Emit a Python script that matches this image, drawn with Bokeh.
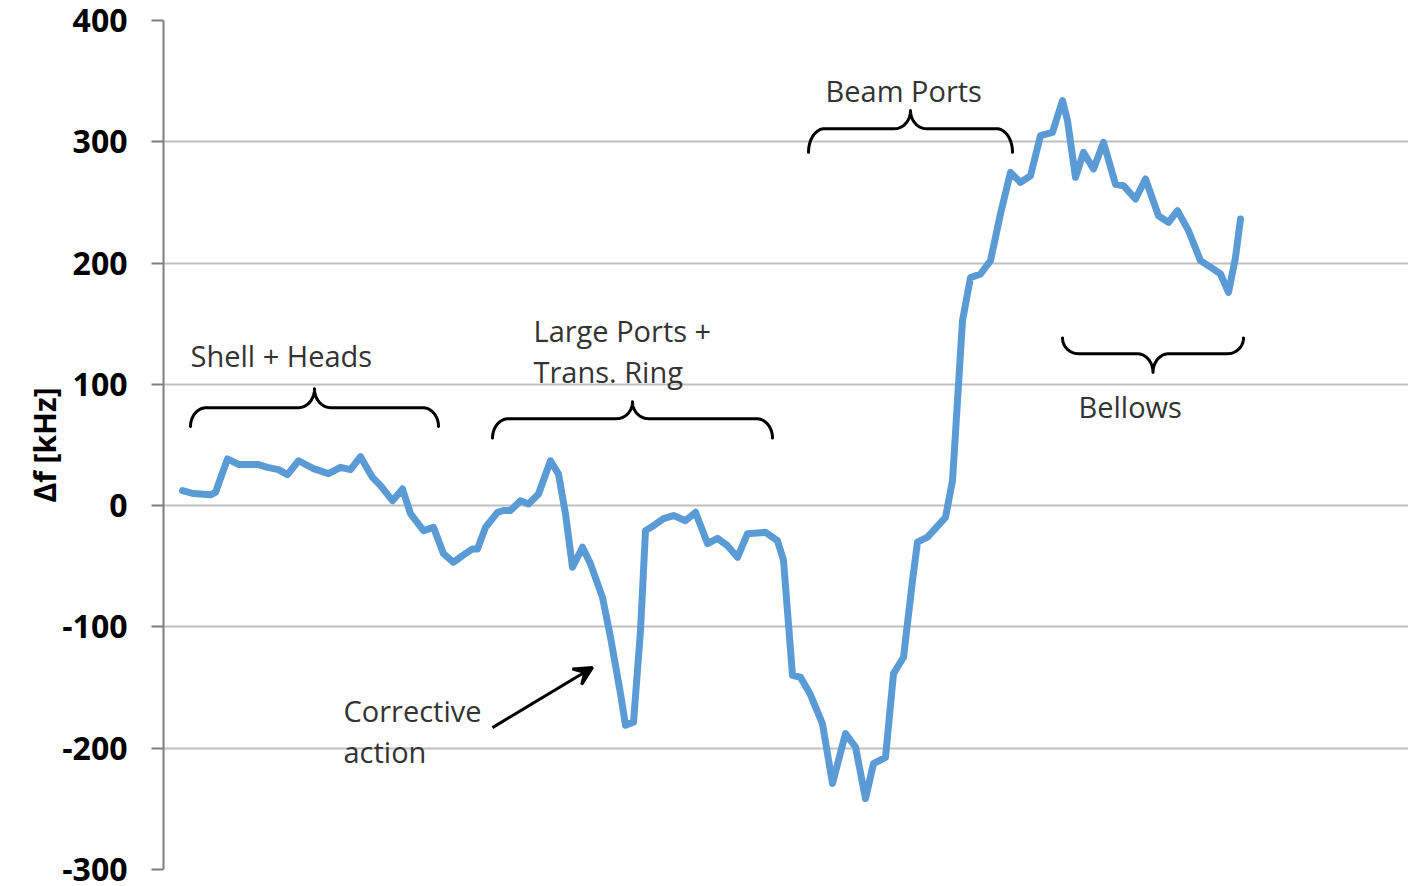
import numpy as np
from bokeh.plotting import figure
from bokeh.models import FixedTicker, Arrow, VeeHead, Range1d
from bokeh.core.properties import value
from bokeh.embed import file_html
from bokeh.resources import INLINE

# ---- data: measurement step vs frequency shift (kHz) ----
step = [1.9, 3.0, 4.7, 5.2, 6.4, 7.5, 9.4, 10.4, 11.5, 12.4, 13.5, 15.0, 16.5, 17.7,
        18.7, 19.7, 20.9, 21.7, 22.9, 23.9, 24.7, 26.0, 27.0, 28.0, 29.0, 29.9, 30.9,
        31.4, 32.2, 33.4, 34.0, 34.7, 35.7, 36.5, 37.5, 38.7, 39.5, 40.2, 40.9, 41.9,
        42.7, 43.9, 44.7, 45.7, 46.2, 47.0, 47.7, 48.2, 49.0, 50.0, 51.0, 52.2, 53.2,
        54.4, 55.4, 56.4, 57.4, 58.4, 60.2, 61.4, 62.0, 62.9, 63.7, 64.7, 65.9, 66.9,
        68.2, 69.2, 70.2, 71.0, 72.2, 73.0, 74.0, 74.9, 75.4, 76.4, 78.2, 78.9, 79.9,
        80.7, 81.7, 82.7, 83.7, 84.7, 85.7, 86.7, 87.7, 88.9, 89.9, 90.4, 91.2, 92.0,
        93.0, 94.0, 95.2, 96.0, 97.2, 98.2, 99.5, 100.5, 101.4, 102.5, 103.7, 105.0,
        105.7, 106.5, 107.2, 107.7]
delta_f = [12.4, 10, 9, 11, 38.5, 34, 34, 31.6, 29.7, 25.6, 37, 30.5, 26.4, 31.6,
           29.7, 40.4, 23.3, 16.5, 4.1, 13.7, -6.6, -20.6, -17.9, -39.6, -46.7, -41.2, -35.7,
           -35.7, -17.9, -5.5, -4, -4, 4, 1.4, 9.6, 37, 26, -6.8, -50.8, -34.3,
           -48, -75.6, -108.5, -155, -181, -178.6, -103, -20.6, -16.5, -10.7, -8.2, -12.4, -5.5,
           -31.3, -27, -33, -42.6, -23.1, -22, -28.9, -45, -140, -141.5, -156, -180, -229,
           -188, -199, -241.5, -212.7, -207.5, -138.5, -125, -61.8, -30, -26, -9.6, 20.6, 152.5,
           188, 191, 202, 240.7, 274.8, 266.5, 272, 305, 307.8, 334, 317.4, 270.7, 291.3,
           277.6, 299.5, 265, 263.8, 252.8, 269.3, 239, 233.6, 243.2, 226.7, 202, 195,
           191, 175.8, 204.7, 236.3]

y_ticks = [-300, -200, -100, 0, 100, 200, 300, 400]
y_tick_labels = ["-300", "-200", "-100", "0", "100", "200", "300", "400"]

# ---- annotations ----
brace_labels = ["Shell + Heads", "Large Ports + Trans. Ring", "Beam Ports", "Bellows"]
brace_x0 = [2.7, 32.9, 64.5, 89.9]
brace_x1 = [27.5, 60.9, 84.9, 108.0]
brace_y = [80.8, 71.7, 310.8, 125.3]
brace_end = [-15.5, -16.0, -19.5, 13.0]   # where the curled ends point (kHz offset)
brace_tip = [15.5, 14.0, 15.0, -15.5]     # where the middle tip points (kHz offset)

text_lines = ["Shell + Heads", "Large Ports +", "Trans. Ring", "Beam Ports", "Bellows",
              "Corrective", "action"]
text_x = [2.7, 37.0, 37.0, 66.2, 91.5, 18.0, 18.0]
text_y = [123.7, 144.3, 110.5, 342.0, 81.6, -169.0, -202.8]

arrow_start = (32.9, -183.0)
arrow_end = (42.9, -133.5)

LINE_COLOR = "#5b9bd5"
TEXT_COLOR = "#333333"

p = figure(width=1408, height=886, output_backend="svg", toolbar_location=None,
           x_range=Range1d(0, 124.5), y_range=Range1d(-300, 400),
           min_border_left=163, min_border_right=0, min_border_top=20,
           min_border_bottom=17, background_fill_color="white",
           border_fill_color="white")
p.outline_line_color = None
p.xaxis.visible = False
p.xgrid.visible = False

p.yaxis.ticker = FixedTicker(ticks=y_ticks)
p.yaxis.major_label_overrides = dict(zip(y_ticks, y_tick_labels))
p.yaxis.minor_tick_line_color = None
p.yaxis.major_tick_in = 0
p.yaxis.major_tick_out = 12
p.yaxis.major_tick_line_color = "#7f7f7f"
p.yaxis.major_tick_line_width = 2
p.yaxis.axis_line_color = "#7f7f7f"
p.yaxis.axis_line_width = 2
p.yaxis.major_label_standoff = 24
p.yaxis.major_label_text_font = "Open Sans"
p.yaxis.major_label_text_font_style = "bold"
p.yaxis.major_label_text_font_size = "32px"
p.yaxis.major_label_text_color = "black"
p.yaxis.axis_label = "Δf [kHz]"
p.yaxis.axis_label_text_font = "Open Sans"
p.yaxis.axis_label_text_font_style = "bold"
p.yaxis.axis_label_text_font_size = "30px"
p.yaxis.axis_label_text_color = "black"
p.yaxis.axis_label_standoff = -6

p.ygrid.grid_line_color = "#bfbfbf"
p.ygrid.grid_line_width = 2

# main curve
p.line(step, delta_f, line_color=LINE_COLOR, line_width=7, line_join="round",
       line_cap="round")

# curly braces
r_end = 1.6   # x size of end curl (steps)
r_mid = 1.6   # x size of central curl (steps)
t = np.linspace(0, np.pi / 2, 20)
for x0, x1, yb, de, ht in zip(brace_x0, brace_x1, brace_y, brace_end, brace_tip):
    xm = (x0 + x1) / 2
    lx1 = x0 + r_end - r_end * np.cos(t)
    ly1 = yb + de - de * np.sin(t)
    lx2 = xm - r_mid + r_mid * np.sin(t)
    ly2 = yb + ht - ht * np.cos(t)
    rx2 = (2 * xm - lx2)[::-1]
    ry2 = ly2[::-1]
    rx1 = (x0 + x1 - lx1)[::-1]
    ry1 = ly1[::-1]
    bx = np.concatenate([lx1, lx2, rx2, rx1])
    by = np.concatenate([ly1, ly2, ry2, ry1])
    p.line(bx, by, line_color="black", line_width=3, line_join="round", line_cap="round")

p.text(x=text_x, y=text_y, text=text_lines, text_font=value("Open Sans"),
       text_font_size="29px", text_color=TEXT_COLOR, text_align="left",
       text_baseline="middle")

p.add_layout(Arrow(x_start=arrow_start[0], y_start=arrow_start[1],
                   x_end=arrow_end[0], y_end=arrow_end[1],
                   line_color="black", line_width=3,
                   end=VeeHead(size=18, line_color="black", line_width=3,
                               fill_color="black")))

open("out.html", "w").write(file_html(p, INLINE))
